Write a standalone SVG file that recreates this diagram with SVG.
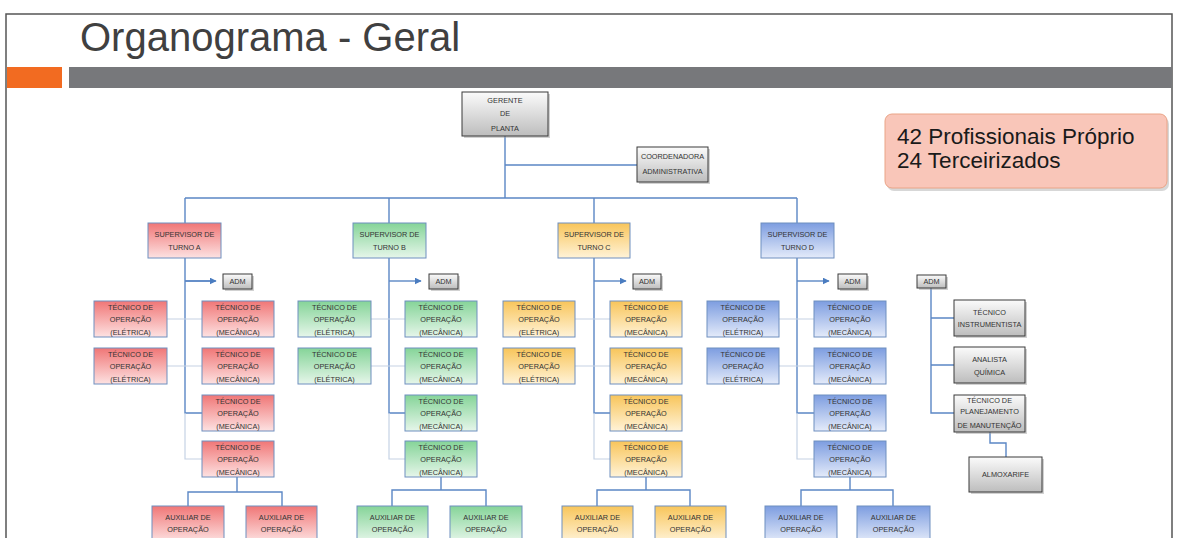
<svg xmlns="http://www.w3.org/2000/svg" width="1179" height="538" viewBox="0 0 1179 538">
<style>
.t{font-family:"Liberation Sans",Arial,sans-serif;font-size:7.3px;fill:#333;text-anchor:middle}
.title{font-family:"Liberation Sans",Arial,sans-serif;font-size:40px;fill:#404040}
.info{font-family:"Liberation Sans",Arial,sans-serif;font-size:22.5px;fill:#1a1a1a}
.red{fill:url(#gRed);stroke:#6f8fbf;stroke-width:1}
.grn{fill:url(#gGrn);stroke:#6f8fbf;stroke-width:1}
.yel{fill:url(#gYel);stroke:#6f8fbf;stroke-width:1}
.blu{fill:url(#gBlu);stroke:#6f8fbf;stroke-width:1}
.gry{fill:url(#gGry);stroke:#3a3a3a;stroke-width:1}
.sh{fill:#9a9a9a;opacity:0.45}
.c{fill:none;stroke:#5b87c5;stroke-width:1.4}
.cl{fill:none;stroke:#c5d2e4;stroke-width:1.2}
</style>
<defs>
<linearGradient id="gRed" x1="0" y1="0" x2="0" y2="1"><stop offset="0" stop-color="#f07676"/><stop offset="1" stop-color="#fde2e2"/></linearGradient>
<linearGradient id="gGrn" x1="0" y1="0" x2="0" y2="1"><stop offset="0" stop-color="#85d498"/><stop offset="1" stop-color="#e6f6ea"/></linearGradient>
<linearGradient id="gYel" x1="0" y1="0" x2="0" y2="1"><stop offset="0" stop-color="#f8c55a"/><stop offset="1" stop-color="#fff3d8"/></linearGradient>
<linearGradient id="gBlu" x1="0" y1="0" x2="0" y2="1"><stop offset="0" stop-color="#7d9de0"/><stop offset="1" stop-color="#e4ebfa"/></linearGradient>
<linearGradient id="gGry" x1="0" y1="0" x2="0" y2="1"><stop offset="0" stop-color="#fbfbfb"/><stop offset="1" stop-color="#bdbdbd"/></linearGradient>
<marker id="arr" viewBox="0 0 10 10" refX="9" refY="5" markerWidth="5" markerHeight="5" orient="auto"><path d="M0,0 L10,5 L0,10 z" fill="#4a7cc0"/></marker>
</defs>
<rect width="1179" height="538" fill="#ffffff"/>
<rect x="6" y="14" width="1166" height="540" fill="none" stroke="#555" stroke-width="1.5"/>
<text class="title" x="80" y="51">Organograma - Geral</text>
<rect x="7" y="67" width="55" height="21" fill="#f26b21"/>
<rect x="69" y="67" width="1103" height="21" fill="#77787b"/>

<g id="info">
<rect x="887" y="117" width="282" height="74" rx="7" fill="#b0b0b0" opacity="0.5"/>
<rect x="885" y="114" width="282" height="74" rx="7" fill="#f9c6b9" stroke="#eaa487" stroke-width="1"/>
<text class="info" x="897" y="144">42 Profissionais Próprio</text>
<text class="info" x="897" y="168">24 Terceirizados</text>
</g>

<g id="connectors">
<path class="c" d="M505,136 V198 M505,165 H637 M185,198 H797 M185,198 V223 M389,198 V223 M594,198 V223 M797,198 V223"/>
<!-- A -->
<path class="c" d="M185,258 V413 H202 M185,281 H215" />
<path class="c" d="M185,281 H216" marker-end="url(#arr)"/>
<path class="cl" d="M167,319 H202 M167,366 H202 M185,413 V459 H202"/>
<path class="c" d="M237,477 V492 M188,506 V492 H282 V506"/>
<!-- B -->
<path class="c" d="M389,258 V413 H405"/>
<path class="c" d="M389,281 H421" marker-end="url(#arr)"/>
<path class="cl" d="M371,319 H405 M371,366 H405 M389,413 V459 H405"/>
<path class="c" d="M441,477 V490 M392,506 V490 H486 V506"/>
<!-- C -->
<path class="c" d="M594,258 V413 H610"/>
<path class="c" d="M594,281 H626" marker-end="url(#arr)"/>
<path class="cl" d="M575,319 H610 M575,366 H610 M594,413 V459 H610"/>
<path class="c" d="M646,477 V490 M597,506 V490 H690 V506"/>
<!-- D -->
<path class="c" d="M797,258 V413 H814"/>
<path class="c" d="M797,281 H829" marker-end="url(#arr)"/>
<path class="cl" d="M779,319 H814 M779,366 H814 M797,413 V459 H814"/>
<path class="c" d="M850,477 V490 M801,506 V490 H893 V506"/>
<!-- right column -->
<path class="c" d="M931,288 V413 H954 M931,318 H954 M931,365 H954"/>
<path class="c" d="M990,432 V443 H1006 V457"/>
</g>

<g id="gerente"><rect class="sh" x="464" y="94" width="86" height="44"/><rect class="gry" x="462" y="92" width="86" height="44"/>
<text class="t" x="505" y="102.6">GERENTE</text><text class="t" x="505" y="115.6">DE</text><text class="t" x="505" y="130.6">PLANTA</text></g>
<g id="coordenadora"><rect class="sh" x="639" y="149" width="71" height="35"/><rect class="gry" x="637" y="147" width="71" height="35"/>
<text class="t" x="672.5" y="158.6">COORDENADORA</text><text class="t" x="672.5" y="173.6">ADMINISTRATIVA</text></g>

<!-- Turno A -->
<g id="supA"><rect class="red" x="148" y="223" width="73" height="35"/><text class="t" x="184.5" y="236.6">SUPERVISOR DE</text><text class="t" x="184.5" y="249.6">TURNO A</text></g>
<g id="admA"><rect class="sh" x="225" y="276" width="29" height="15"/><rect class="gry" x="223" y="274" width="29" height="15"/><text class="t" x="237.5" y="284">ADM</text></g>
<g id="eleA1"><rect class="red" x="94" y="301" width="73" height="36"/><text class="t" x="130.5" y="309.6">TÉCNICO DE</text><text class="t" x="130.5" y="321.6">OPERAÇÃO</text><text class="t" x="130.5" y="334.6">(ELÉTRICA)</text></g>
<g id="eleA2"><rect class="red" x="94" y="348" width="73" height="36"/><text class="t" x="130.5" y="356.6">TÉCNICO DE</text><text class="t" x="130.5" y="368.6">OPERAÇÃO</text><text class="t" x="130.5" y="381.6">(ELÉTRICA)</text></g>
<g id="mecA1"><rect class="red" x="202" y="301" width="72" height="36"/><text class="t" x="238" y="309.6">TÉCNICO DE</text><text class="t" x="238" y="321.6">OPERAÇÃO</text><text class="t" x="238" y="334.6">(MECÂNICA)</text></g>
<g id="mecA2"><rect class="red" x="202" y="348" width="72" height="36"/><text class="t" x="238" y="356.6">TÉCNICO DE</text><text class="t" x="238" y="368.6">OPERAÇÃO</text><text class="t" x="238" y="381.6">(MECÂNICA)</text></g>
<g id="mecA3"><rect class="red" x="202" y="395" width="72" height="36"/><text class="t" x="238" y="403.6">TÉCNICO DE</text><text class="t" x="238" y="415.6">OPERAÇÃO</text><text class="t" x="238" y="428.6">(MECÂNICA)</text></g>
<g id="mecA4"><rect class="red" x="202" y="441" width="72" height="36"/><text class="t" x="238" y="449.6">TÉCNICO DE</text><text class="t" x="238" y="461.6">OPERAÇÃO</text><text class="t" x="238" y="474.6">(MECÂNICA)</text></g>
<g id="auxA1"><rect class="red" x="152" y="506" width="72" height="36"/><text class="t" x="188" y="519.6">AUXILIAR DE</text><text class="t" x="188" y="531.6">OPERAÇÃO</text></g>
<g id="auxA2"><rect class="red" x="246" y="506" width="71" height="36"/><text class="t" x="281.5" y="519.6">AUXILIAR DE</text><text class="t" x="281.5" y="531.6">OPERAÇÃO</text></g>

<!-- Turno B -->
<g id="supB"><rect class="grn" x="353" y="223" width="73" height="35"/><text class="t" x="389.5" y="236.6">SUPERVISOR DE</text><text class="t" x="389.5" y="249.6">TURNO B</text></g>
<g id="admB"><rect class="sh" x="431" y="276" width="29" height="15"/><rect class="gry" x="429" y="274" width="29" height="15"/><text class="t" x="443.5" y="284">ADM</text></g>
<g id="eleB1"><rect class="grn" x="298" y="301" width="73" height="36"/><text class="t" x="334.5" y="309.6">TÉCNICO DE</text><text class="t" x="334.5" y="321.6">OPERAÇÃO</text><text class="t" x="334.5" y="334.6">(ELÉTRICA)</text></g>
<g id="eleB2"><rect class="grn" x="298" y="348" width="73" height="36"/><text class="t" x="334.5" y="356.6">TÉCNICO DE</text><text class="t" x="334.5" y="368.6">OPERAÇÃO</text><text class="t" x="334.5" y="381.6">(ELÉTRICA)</text></g>
<g id="mecB1"><rect class="grn" x="405" y="301" width="72" height="36"/><text class="t" x="441" y="309.6">TÉCNICO DE</text><text class="t" x="441" y="321.6">OPERAÇÃO</text><text class="t" x="441" y="334.6">(MECÂNICA)</text></g>
<g id="mecB2"><rect class="grn" x="405" y="348" width="72" height="36"/><text class="t" x="441" y="356.6">TÉCNICO DE</text><text class="t" x="441" y="368.6">OPERAÇÃO</text><text class="t" x="441" y="381.6">(MECÂNICA)</text></g>
<g id="mecB3"><rect class="grn" x="405" y="395" width="72" height="36"/><text class="t" x="441" y="403.6">TÉCNICO DE</text><text class="t" x="441" y="415.6">OPERAÇÃO</text><text class="t" x="441" y="428.6">(MECÂNICA)</text></g>
<g id="mecB4"><rect class="grn" x="405" y="441" width="72" height="36"/><text class="t" x="441" y="449.6">TÉCNICO DE</text><text class="t" x="441" y="461.6">OPERAÇÃO</text><text class="t" x="441" y="474.6">(MECÂNICA)</text></g>
<g id="auxB1"><rect class="grn" x="357" y="506" width="71" height="36"/><text class="t" x="392.5" y="519.6">AUXILIAR DE</text><text class="t" x="392.5" y="531.6">OPERAÇÃO</text></g>
<g id="auxB2"><rect class="grn" x="450" y="506" width="72" height="36"/><text class="t" x="486" y="519.6">AUXILIAR DE</text><text class="t" x="486" y="531.6">OPERAÇÃO</text></g>

<!-- Turno C -->
<g id="supC"><rect class="yel" x="558" y="223" width="72" height="35"/><text class="t" x="594" y="236.6">SUPERVISOR DE</text><text class="t" x="594" y="249.6">TURNO C</text></g>
<g id="admC"><rect class="sh" x="635" y="276" width="28" height="15"/><rect class="gry" x="633" y="274" width="28" height="15"/><text class="t" x="647" y="284">ADM</text></g>
<g id="eleC1"><rect class="yel" x="503" y="301" width="72" height="36"/><text class="t" x="539" y="309.6">TÉCNICO DE</text><text class="t" x="539" y="321.6">OPERAÇÃO</text><text class="t" x="539" y="334.6">(ELÉTRICA)</text></g>
<g id="eleC2"><rect class="yel" x="503" y="348" width="72" height="36"/><text class="t" x="539" y="356.6">TÉCNICO DE</text><text class="t" x="539" y="368.6">OPERAÇÃO</text><text class="t" x="539" y="381.6">(ELÉTRICA)</text></g>
<g id="mecC1"><rect class="yel" x="610" y="301" width="72" height="36"/><text class="t" x="646" y="309.6">TÉCNICO DE</text><text class="t" x="646" y="321.6">OPERAÇÃO</text><text class="t" x="646" y="334.6">(MECÂNICA)</text></g>
<g id="mecC2"><rect class="yel" x="610" y="348" width="72" height="36"/><text class="t" x="646" y="356.6">TÉCNICO DE</text><text class="t" x="646" y="368.6">OPERAÇÃO</text><text class="t" x="646" y="381.6">(MECÂNICA)</text></g>
<g id="mecC3"><rect class="yel" x="610" y="395" width="72" height="36"/><text class="t" x="646" y="403.6">TÉCNICO DE</text><text class="t" x="646" y="415.6">OPERAÇÃO</text><text class="t" x="646" y="428.6">(MECÂNICA)</text></g>
<g id="mecC4"><rect class="yel" x="610" y="441" width="72" height="36"/><text class="t" x="646" y="449.6">TÉCNICO DE</text><text class="t" x="646" y="461.6">OPERAÇÃO</text><text class="t" x="646" y="474.6">(MECÂNICA)</text></g>
<g id="auxC1"><rect class="yel" x="562" y="506" width="71" height="36"/><text class="t" x="597.5" y="519.6">AUXILIAR DE</text><text class="t" x="597.5" y="531.6">OPERAÇÃO</text></g>
<g id="auxC2"><rect class="yel" x="655" y="506" width="71" height="36"/><text class="t" x="690.5" y="519.6">AUXILIAR DE</text><text class="t" x="690.5" y="531.6">OPERAÇÃO</text></g>

<!-- Turno D -->
<g id="supD"><rect class="blu" x="761" y="223" width="73" height="35"/><text class="t" x="797.5" y="236.6">SUPERVISOR DE</text><text class="t" x="797.5" y="249.6">TURNO D</text></g>
<g id="admD"><rect class="sh" x="840" y="276" width="29" height="15"/><rect class="gry" x="838" y="274" width="29" height="15"/><text class="t" x="852.5" y="284">ADM</text></g>
<g id="eleD1"><rect class="blu" x="707" y="301" width="72" height="36"/><text class="t" x="743" y="309.6">TÉCNICO DE</text><text class="t" x="743" y="321.6">OPERAÇÃO</text><text class="t" x="743" y="334.6">(ELÉTRICA)</text></g>
<g id="eleD2"><rect class="blu" x="707" y="348" width="72" height="36"/><text class="t" x="743" y="356.6">TÉCNICO DE</text><text class="t" x="743" y="368.6">OPERAÇÃO</text><text class="t" x="743" y="381.6">(ELÉTRICA)</text></g>
<g id="mecD1"><rect class="blu" x="814" y="301" width="72" height="36"/><text class="t" x="850" y="309.6">TÉCNICO DE</text><text class="t" x="850" y="321.6">OPERAÇÃO</text><text class="t" x="850" y="334.6">(MECÂNICA)</text></g>
<g id="mecD2"><rect class="blu" x="814" y="348" width="72" height="36"/><text class="t" x="850" y="356.6">TÉCNICO DE</text><text class="t" x="850" y="368.6">OPERAÇÃO</text><text class="t" x="850" y="381.6">(MECÂNICA)</text></g>
<g id="mecD3"><rect class="blu" x="814" y="395" width="72" height="36"/><text class="t" x="850" y="403.6">TÉCNICO DE</text><text class="t" x="850" y="415.6">OPERAÇÃO</text><text class="t" x="850" y="428.6">(MECÂNICA)</text></g>
<g id="mecD4"><rect class="blu" x="814" y="441" width="72" height="36"/><text class="t" x="850" y="449.6">TÉCNICO DE</text><text class="t" x="850" y="461.6">OPERAÇÃO</text><text class="t" x="850" y="474.6">(MECÂNICA)</text></g>
<g id="auxD1"><rect class="blu" x="765" y="506" width="72" height="36"/><text class="t" x="801" y="519.6">AUXILIAR DE</text><text class="t" x="801" y="531.6">OPERAÇÃO</text></g>
<g id="auxD2"><rect class="blu" x="857" y="506" width="73" height="36"/><text class="t" x="893.5" y="519.6">AUXILIAR DE</text><text class="t" x="893.5" y="531.6">OPERAÇÃO</text></g>

<!-- Right column -->
<g id="admR"><rect class="sh" x="919" y="277" width="29" height="13"/><rect class="gry" x="917" y="275" width="29" height="13"/><text class="t" x="931.5" y="284">ADM</text></g>
<g id="instrumentista"><rect class="sh" x="956" y="302" width="71" height="36"/><rect class="gry" x="954" y="300" width="71" height="36"/><text class="t" x="989.5" y="314.6">TÉCNICO</text><text class="t" x="989.5" y="326.6">INSTRUMENTISTA</text></g>
<g id="analista"><rect class="sh" x="956" y="349" width="71" height="36"/><rect class="gry" x="954" y="347" width="71" height="36"/><text class="t" x="989.5" y="361.6">ANALISTA</text><text class="t" x="989.5" y="374.6">QUÍMICA</text></g>
<g id="planejamento"><rect class="sh" x="956" y="397" width="71" height="37"/><rect class="gry" x="954" y="395" width="71" height="37"/><text class="t" x="989.5" y="402.6">TÉCNICO DE</text><text class="t" x="989.5" y="413.6">PLANEJAMENTO</text><text class="t" x="989.5" y="427.6">DE MANUTENÇÃO</text></g>
<g id="almoxarife"><rect class="sh" x="971" y="459" width="73" height="35"/><rect class="gry" x="969" y="457" width="73" height="35"/><text class="t" x="1005.5" y="477">ALMOXARIFE</text></g>
</svg>
